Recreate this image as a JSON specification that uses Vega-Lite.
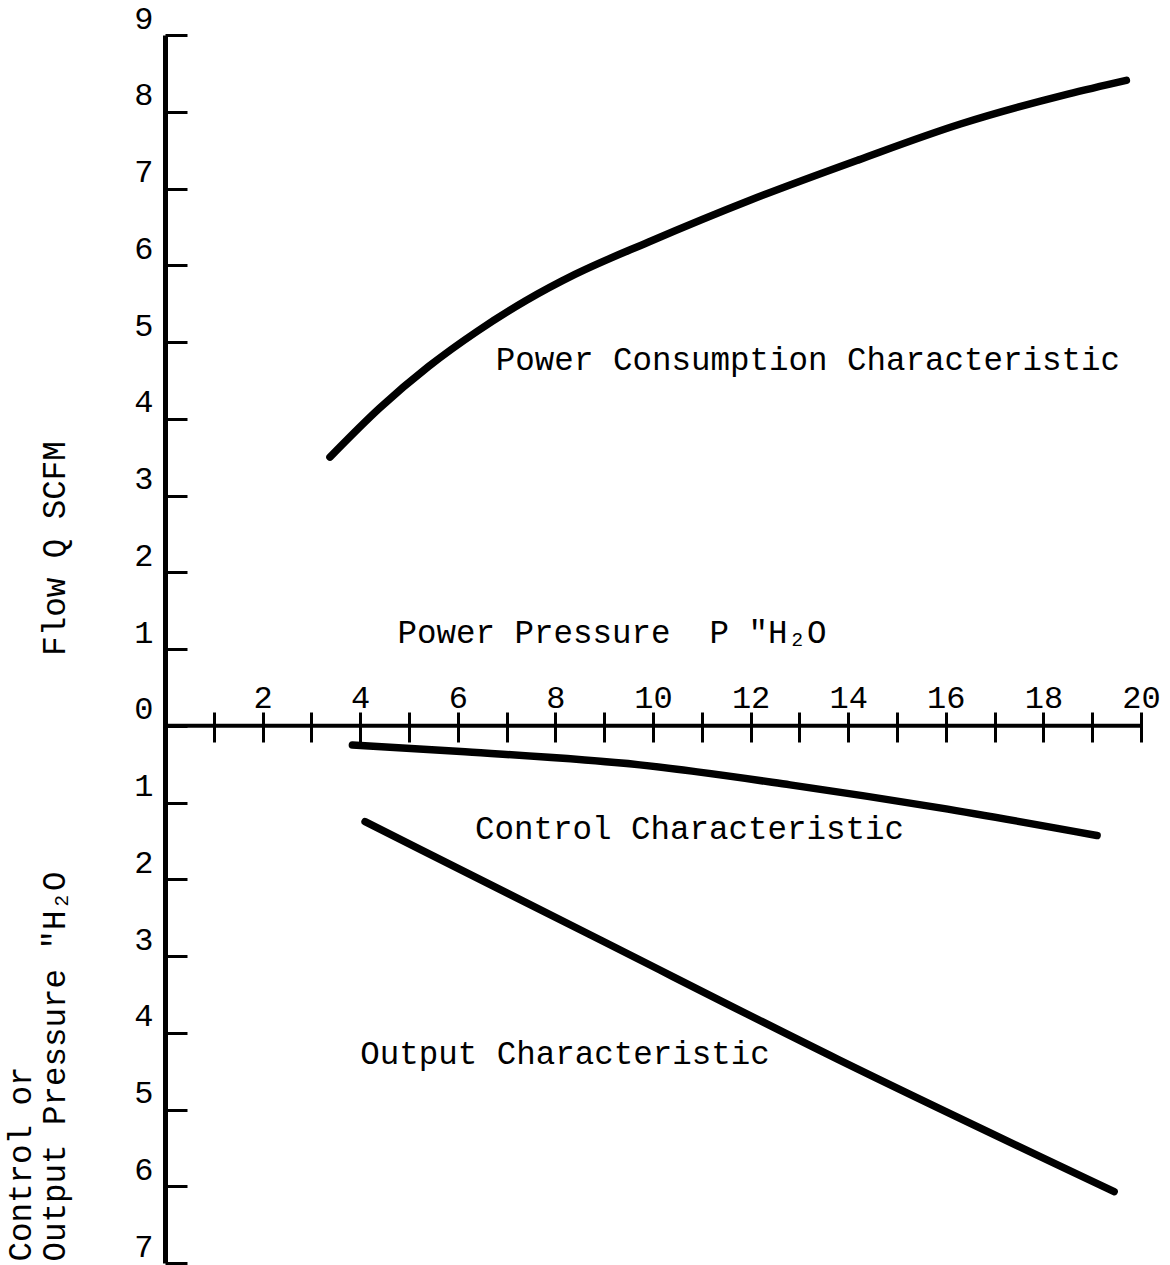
{
  "$schema": "https://vega.github.io/schema/vega-lite/v6.json",
  "width": 976,
  "height": 1228,
  "autosize": "none",
  "padding": {"left": 165, "top": 35, "right": 29, "bottom": 2},
  "background": "white",
  "config": {"view": {"stroke": null}, "font": "Liberation Mono"},
  "datasets": {
    "curves": [
      {"series": "Power Consumption", "pressure": 3.38, "value": 3.5},
      {"series": "Power Consumption", "pressure": 4.4, "value": 4.14},
      {"series": "Power Consumption", "pressure": 5.4, "value": 4.68},
      {"series": "Power Consumption", "pressure": 6.4, "value": 5.14},
      {"series": "Power Consumption", "pressure": 7.4, "value": 5.54},
      {"series": "Power Consumption", "pressure": 8.4, "value": 5.88},
      {"series": "Power Consumption", "pressure": 9.9, "value": 6.3},
      {"series": "Power Consumption", "pressure": 12.0, "value": 6.85},
      {"series": "Power Consumption", "pressure": 14.2, "value": 7.37},
      {"series": "Power Consumption", "pressure": 16.3, "value": 7.84},
      {"series": "Power Consumption", "pressure": 18.5, "value": 8.23},
      {"series": "Power Consumption", "pressure": 19.7, "value": 8.41},
      {"series": "Control", "pressure": 3.84, "value": -0.25},
      {"series": "Control", "pressure": 6.15, "value": -0.34},
      {"series": "Control", "pressure": 9.73, "value": -0.51},
      {"series": "Control", "pressure": 12.81, "value": -0.77},
      {"series": "Control", "pressure": 15.88, "value": -1.07},
      {"series": "Control", "pressure": 19.1, "value": -1.43},
      {"series": "Output", "pressure": 4.1, "value": -1.25},
      {"series": "Output", "pressure": 8.7, "value": -2.72},
      {"series": "Output", "pressure": 13.8, "value": -4.35},
      {"series": "Output", "pressure": 19.45, "value": -6.07}
    ],
    "notes": [
      {"label": "Power Consumption Characteristic", "pressure": 6.78, "value": 4.77},
      {"label": "Control Characteristic", "pressure": 6.35, "value": -1.35},
      {"label": "Output Characteristic", "pressure": 4.0, "value": -4.28}
    ],
    "sidetitle": [
      {"label": "Control or", "pressure": -2.95, "value": -6.98},
      {"label": "Output Pressure \"H₂O", "pressure": -2.25, "value": -6.98}
    ]
  },
  "layer": [
    {
      "data": {"name": "curves"},
      "mark": {"type": "line", "color": "black", "strokeWidth": 7.5, "strokeCap": "round", "interpolate": "monotone"},
      "encoding": {
        "x": {
          "field": "pressure", "type": "quantitative",
          "scale": {"domain": [0, 20], "nice": false, "zero": false},
          "axis": {
            "orient": "top", "offset": -707, "domain": false, "grid": false,
            "values": [1,2,3,4,5,6,7,8,9,10,11,12,13,14,15,16,17,18,19,20],
            "tickSize": 30, "tickWidth": 3, "tickColor": "black",
            "labelExpr": "datum.value % 2 === 0 ? datum.label : ''",
            "labelFont": "Liberation Mono", "labelFontSize": 32, "labelColor": "black",
            "labelPadding": 5, "labelBaseline": "alphabetic", "labelFlush": false, "labelOverlap": false,
            "title": "Power Pressure \u00a0P \"H₂O",
            "titleFont": "Liberation Mono", "titleFontSize": 32.5, "titleFontWeight": "normal", "titleColor": "black",
            "titleAlign": "left", "titleAnchor": "start", "titleX": 232, "titleY": -110, "titleBaseline": "middle", "titleAngle": 0
          }
        },
        "y": {
          "field": "value", "type": "quantitative",
          "scale": {"domain": [-7, 9], "nice": false, "zero": false},
          "axis": {
            "orient": "left", "grid": false,
            "values": [-7,-6,-5,-4,-3,-2,-1,0,1,2,3,4,5,6,7,8,9],
            "domain": true, "domainWidth": 5, "domainColor": "black",
            "tickSize": -22, "tickWidth": 3, "tickColor": "black",
            "labelExpr": "'' + abs(datum.value)",
            "labelFont": "Liberation Mono", "labelFontSize": 32, "labelColor": "black",
            "labelPadding": 34, "labelBaseline": "alphabetic", "labelOffset": -7, "labelFlush": false, "labelOverlap": false,
            "title": "Flow Q SCFM",
            "titleFont": "Liberation Mono", "titleFontSize": 32.5, "titleFontWeight": "normal", "titleColor": "black",
            "titleAngle": 270, "titleX": -111, "titleY": 513, "titleAlign": "center", "titleBaseline": "middle"
          }
        },
        "detail": {"field": "series", "type": "nominal"}
      }
    },
    {
      "data": {"values": [{}]},
      "mark": {"type": "rule", "color": "black", "strokeWidth": 4},
      "encoding": {"y": {"datum": 0}}
    },
    {
      "data": {"name": "notes"},
      "mark": {"type": "text", "align": "left", "baseline": "middle", "fontSize": 32.5, "font": "Liberation Mono", "color": "black"},
      "encoding": {
        "x": {"field": "pressure", "type": "quantitative"},
        "y": {"field": "value", "type": "quantitative"},
        "text": {"field": "label"}
      }
    },
    {
      "data": {"name": "sidetitle"},
      "mark": {"type": "text", "align": "left", "baseline": "middle", "angle": 270, "fontSize": 32.5, "font": "Liberation Mono", "color": "black"},
      "encoding": {
        "x": {"field": "pressure", "type": "quantitative"},
        "y": {"field": "value", "type": "quantitative"},
        "text": {"field": "label"}
      }
    }
  ]
}
